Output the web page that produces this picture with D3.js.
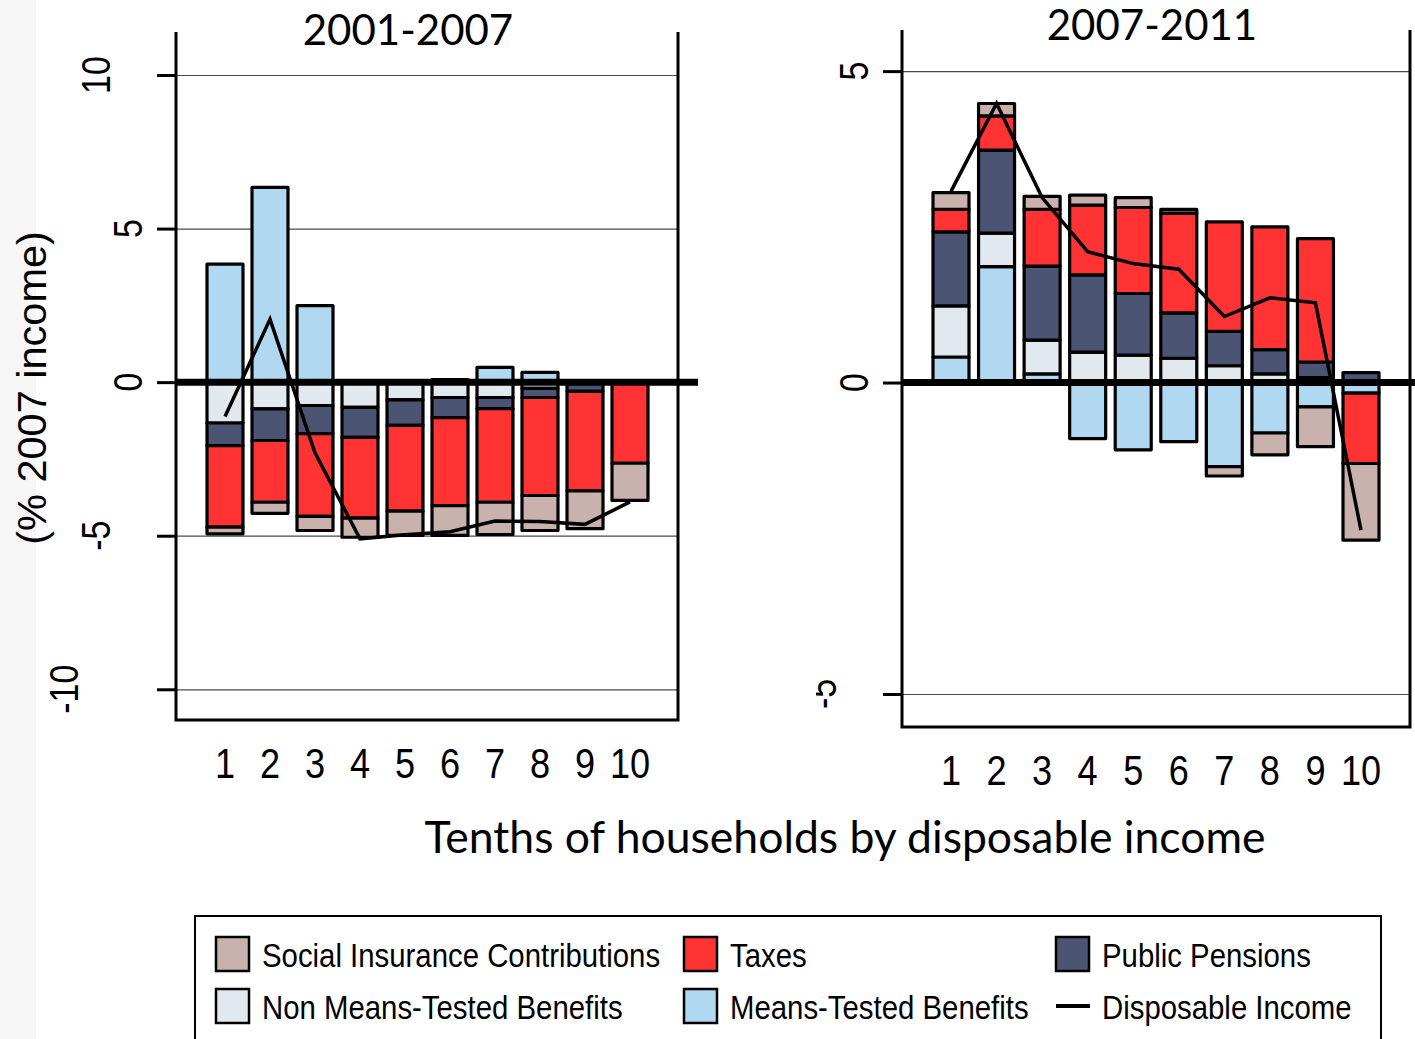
<!DOCTYPE html>
<html>
<head>
<meta charset="utf-8">
<script src="https://cdn.jsdelivr.net/npm/d3@7"></script>
<style>
  html, body { margin: 0; padding: 0; background: #fff; }
  svg { display: block; }
</style>
</head>
<body>
<svg id="chart" width="1415" height="1039"></svg>
<script>
// Tenths of households (deciles of disposable income)
const deciles = ["1", "2", "3", "4", "5", "6", "7", "8", "9", "10"];

// Components, in stacking order (nearest to zero first)
const components = [
  "Means-Tested Benefits",
  "Non Means-Tested Benefits",
  "Public Pensions",
  "Taxes",
  "Social Insurance Contributions"
];
const componentColors = ["#b0d8f0", "#e1e8ee", "#4b5573", "#ff3333", "#c9b2ae"];

// 2001-2007, change as % of 2007 income
const meansTested0107    = [3.84, 6.34, 2.49, 0, 0, 0.08, 0.48, 0.32, 0, 0];
const nonMeansTested0107 = [-1.33, -0.87, -0.76, -0.82, -0.58, -0.50, -0.50, -0.20, -0.05, 0];
const pensions0107       = [-0.74, -1.03, -0.92, -0.98, -0.83, -0.66, -0.36, -0.30, -0.25, 0];
const taxes0107          = [-2.65, -2.01, -2.69, -2.63, -2.79, -2.86, -3.05, -3.19, -3.24, -2.64];
const contributions0107  = [-0.22, -0.36, -0.46, -0.62, -0.79, -0.97, -1.05, -1.14, -1.23, -1.21];
const disposable0107     = [-1.12, 2.05, -2.30, -5.10, -4.97, -4.87, -4.52, -4.54, -4.63, -3.90];

// 2007-2011, change as % of 2007 income
const meansTested0711    = [0.41, 1.86, 0.14, -0.90, -1.08, -0.95, -1.35, -0.81, -0.39, -0.17];
const nonMeansTested0711 = [0.82, 0.54, 0.54, 0.49, 0.44, 0.39, 0.27, 0.14, 0.08, 0];
const pensions0711       = [1.19, 1.33, 1.19, 1.24, 0.99, 0.73, 0.55, 0.39, 0.25, 0.16];
const taxes0711          = [0.36, 0.55, 0.91, 1.12, 1.38, 1.60, 1.76, 1.97, 1.98, -1.13];
const contributions0711  = [0.27, 0.20, 0.21, 0.16, 0.16, 0.06, -0.15, -0.35, -0.64, -1.23];
const disposable0711     = [3.07, 4.48, 2.97, 2.10, 1.91, 1.82, 1.06, 1.36, 1.28, -2.37];

// Axis tick labels
const yTicks0107 = [-10, -5, 0, 5, 10];
const yTicks0711 = [-5, 0, 5];

const legendRows = [
  ["Social Insurance Contributions", "Taxes", "Public Pensions"],
  ["Non Means-Tested Benefits", "Means-Tested Benefits", "Disposable Income"]
];

const svg = d3.select("#chart");
const sansFont = "'Liberation Sans', Arial, sans-serif";
const titleFont = "Lato, 'Open Sans', sans-serif";

// faint strip along the left edge
svg.append("rect").attr("x", 0).attr("y", 0).attr("width", 36).attr("height", 1039).attr("fill", "#f6f6f6");

function buildRows(series) {
  return deciles.map((d, i) => {
    const row = { decile: d };
    components.forEach((c, k) => { row[c] = series[k][i]; });
    return row;
  });
}

function drawPanel(cfg) {
  const g = svg.append("g");
  const x = d3.scalePoint().domain(deciles).range([cfg.firstCenter, cfg.lastCenter]);
  const y = d3.scaleLinear().domain(cfg.yDomain).range([cfg.yBottom, cfg.yTop]);
  const barWidth = 36;

  // horizontal gridlines (zero handled separately)
  g.append("g")
    .attr("transform", `translate(${cfg.xLeft},0)`)
    .call(d3.axisRight(y).tickValues(cfg.ticks.filter(t => t !== 0)).tickSize(cfg.xRight - cfg.xLeft).tickFormat(""))
    .call(a => a.select(".domain").remove())
    .selectAll("line").attr("stroke", "#4a4a4a").attr("stroke-width", 1.2);

  // tick marks on the left axis
  g.append("g")
    .attr("transform", `translate(${cfg.xLeft},0)`)
    .call(d3.axisLeft(y).tickValues(cfg.ticks).tickSize(19).tickFormat(""))
    .call(a => a.select(".domain").remove())
    .selectAll("line").attr("stroke", "#000").attr("stroke-width", 3);

  // y tick labels, rotated
  const labelLayer = g.append("g");
  if (cfg.clipLeft !== undefined) {
    const id = "clip-" + cfg.title;
    svg.append("clipPath").attr("id", id)
      .append("rect").attr("x", cfg.clipLeft).attr("y", 0).attr("width", 1415).attr("height", 1039);
    labelLayer.attr("clip-path", `url(#${id})`);
  }
  cfg.ticks.forEach(t => {
    const label = String(t);
    const bx = cfg.labelBaseX - (label.length - 1) * 32;
    labelLayer.append("text")
      .attr("transform", `translate(${bx},${y(t)}) rotate(-90) scale(0.85,1)`)
      .attr("text-anchor", "middle")
      .attr("font-family", sansFont)
      .attr("font-size", 40)
      .attr("fill", "#000")
      .text(label);
  });

  // stacked bars, positives up from zero and negatives down from zero
  const stack = d3.stack()
    .keys(components)
    .offset(d3.stackOffsetDiverging);
  const stacked = stack(buildRows(cfg.series));

  stacked.forEach((layer, k) => {
    g.append("g").selectAll("rect")
      .data(layer.filter(p => p[0] !== p[1]))
      .join("rect")
      .attr("x", p => x(p.data.decile) - barWidth / 2)
      .attr("y", p => y(p[1]))
      .attr("width", barWidth)
      .attr("height", p => y(p[0]) - y(p[1]))
      .attr("fill", componentColors[k])
      .attr("stroke", "#000")
      .attr("stroke-width", 3.2)
      .attr("stroke-linejoin", "round");
  });

  // frame: left axis, bottom, right edge
  g.append("path")
    .attr("d", `M${cfg.xLeft},${cfg.yTop}V${cfg.yBottom}H${cfg.xRight}V${cfg.yTop}`)
    .attr("fill", "none").attr("stroke", "#000").attr("stroke-width", 3);

  // heavy zero line
  g.append("line")
    .attr("x1", cfg.xLeft).attr("x2", cfg.zeroEnd)
    .attr("y1", y(0)).attr("y2", y(0))
    .attr("stroke", "#000").attr("stroke-width", 7);

  // disposable income line
  g.append("path")
    .datum(cfg.disposable)
    .attr("d", d3.line().x((v, i) => x(deciles[i])).y(v => y(v)))
    .attr("fill", "none").attr("stroke", "#000").attr("stroke-width", 3.5)
    .attr("stroke-linejoin", "miter");

  // decile labels
  g.append("g").selectAll("text")
    .data(deciles)
    .join("text")
    .attr("transform", d => `translate(${x(d)},${cfg.xLabelY}) scale(0.86,1)`)
    .attr("text-anchor", "middle")
    .attr("font-family", sansFont)
    .attr("font-size", 42)
    .attr("fill", "#000")
    .text(d => d);

  // panel title
  g.append("text")
    .attr("x", cfg.titleX).attr("y", cfg.titleY)
    .attr("text-anchor", "middle")
    .attr("font-family", titleFont)
    .attr("font-size", 42)
    .attr("fill", "#000")
    .text(cfg.title);
}

drawPanel({
  title: "2001-2007",
  series: [meansTested0107, nonMeansTested0107, pensions0107, taxes0107, contributions0107],
  disposable: disposable0107,
  ticks: yTicks0107,
  yDomain: [-11.0, 11.4],
  yTop: 32, yBottom: 720,
  xLeft: 176, xRight: 678, zeroEnd: 698,
  firstCenter: 225, lastCenter: 630,
  labelBaseX: 142,
  xLabelY: 778,
  titleX: 408, titleY: 45
});

drawPanel({
  title: "2007-2011",
  series: [meansTested0711, nonMeansTested0711, pensions0711, taxes0711, contributions0711],
  disposable: disposable0711,
  ticks: yTicks0711,
  yDomain: [-5.53, 5.66],
  yTop: 30, yBottom: 727,
  xLeft: 902, xRight: 1410, zeroEnd: 1415,
  firstCenter: 951, lastCenter: 1361,
  labelBaseX: 868,
  clipLeft: 816,
  xLabelY: 785,
  titleX: 1152, titleY: 40
});

// shared axis titles
svg.append("text")
  .attr("transform", "translate(46,388) rotate(-90)")
  .attr("text-anchor", "middle")
  .attr("font-family", sansFont)
  .attr("font-size", 41.5)
  .attr("fill", "#000")
  .text("(% 2007 income)");

svg.append("text")
  .attr("x", 845).attr("y", 853)
  .attr("text-anchor", "middle")
  .attr("font-family", titleFont)
  .attr("font-size", 44.5)
  .attr("fill", "#000")
  .text("Tenths of households by disposable income");

// legend
const legend = svg.append("g");
legend.append("rect")
  .attr("x", 195).attr("y", 916).attr("width", 1186).attr("height", 160)
  .attr("fill", "#fff").attr("stroke", "#000").attr("stroke-width", 2);

const colX = [216, 684, 1056];
const rowY = [937, 989];
legendRows.forEach((row, r) => {
  row.forEach((name, c) => {
    const item = legend.append("g").attr("transform", `translate(${colX[c]},${rowY[r]})`);
    const k = components.indexOf(name);
    if (k >= 0) {
      item.append("rect")
        .attr("x", 0).attr("y", 0).attr("width", 33).attr("height", 34)
        .attr("fill", componentColors[k]).attr("stroke", "#000").attr("stroke-width", 2.5);
    } else {
      item.append("line")
        .attr("x1", 0).attr("x2", 34).attr("y1", 17).attr("y2", 17)
        .attr("stroke", "#000").attr("stroke-width", 4);
    }
    item.append("text")
      .attr("transform", "translate(46,30) scale(0.89,1)")
      .attr("font-family", sansFont)
      .attr("font-size", 33)
      .attr("fill", "#000")
      .text(name);
  });
});
</script>
</body>
</html>
